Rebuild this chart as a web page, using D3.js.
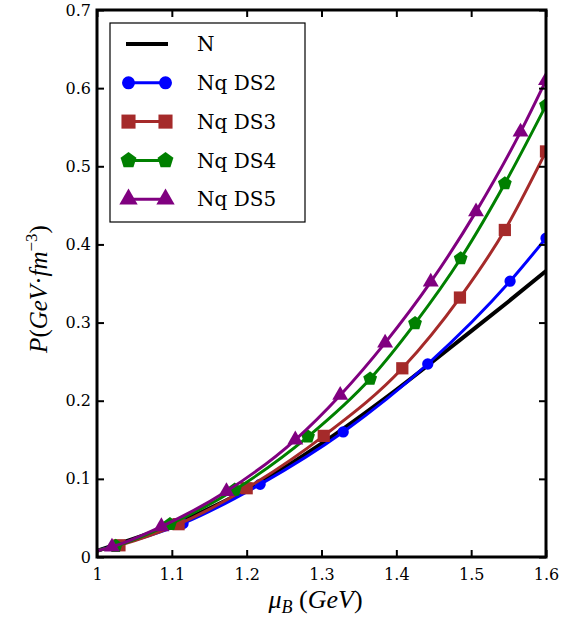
<!DOCTYPE html>
<html>
<head>
<meta charset="utf-8">
<script src="https://cdn.jsdelivr.net/npm/d3@7"></script>
<style>
  body { margin: 0; background: #fff; }
  .tick text { font-family: "DejaVu Serif", serif; font-size: 16px; fill: #000; }
  .tick line { stroke: #000; stroke-width: 2; }
  .domain { display: none; }
</style>
</head>
<body>
<svg id="chart" width="577" height="620"></svg>
<script>
// tick values
const xTicks = [1.0, 1.1, 1.2, 1.3, 1.4, 1.5, 1.6];
const yTicks = [0, 0.1, 0.2, 0.3, 0.4, 0.5, 0.6, 0.7];

// series values (mu_B in GeV, P in GeV fm^-3)
const nX   = [1.0, 1.1, 1.2, 1.3, 1.4, 1.5, 1.55, 1.6];
const nY   = [0.008, 0.041, 0.086, 0.145, 0.214, 0.289, 0.327, 0.366];

const ds2X = [1.0, 1.115, 1.218, 1.329, 1.442, 1.552, 1.6];
const ds2Y = [0.008, 0.043, 0.093, 0.160, 0.247, 0.353, 0.408];

const ds3X = [1.0, 1.03, 1.109, 1.200, 1.303, 1.408, 1.485, 1.545, 1.6];
const ds3Y = [0.008, 0.015, 0.042, 0.088, 0.155, 0.2415, 0.332, 0.4185, 0.519];

const ds4X = [1.0, 1.025, 1.0975, 1.184, 1.282, 1.365, 1.425, 1.486, 1.545, 1.6];
const ds4Y = [0.008, 0.014, 0.042, 0.086, 0.154, 0.228, 0.299, 0.382, 0.478, 0.578];

const ds5X = [1.0, 1.02, 1.086, 1.173, 1.265, 1.325, 1.385, 1.446, 1.5065, 1.566, 1.6];
const ds5Y = [0.008, 0.013, 0.039, 0.084, 0.150, 0.207, 0.274, 0.352, 0.442, 0.544, 0.610];

const seriesNames = ['N', 'Nq DS2', 'Nq DS3', 'Nq DS4', 'Nq DS5'];

const series = [
    { name: seriesNames[0], xs: nX,   ys: nY,   color: '#000000', marker: null,        width: 4 },
    { name: seriesNames[1], xs: ds2X, ys: ds2Y, color: '#0000ff', marker: 'circle',    width: 3 },
    { name: seriesNames[2], xs: ds3X, ys: ds3Y, color: '#a52a2a', marker: 'square',    width: 3 },
    { name: seriesNames[3], xs: ds4X, ys: ds4Y, color: '#008000', marker: 'pentagon',  width: 3 },
    { name: seriesNames[4], xs: ds5X, ys: ds5Y, color: '#800080', marker: 'triangle',  width: 3 }
];

const margin = { top: 10, right: 31, bottom: 63, left: 97 };
const width = 577 - margin.left - margin.right;
const height = 620 - margin.top - margin.bottom;

const svg = d3.select('#chart');
const g = svg.append('g')
    .attr('transform', `translate(${margin.left},${margin.top})`);

const x = d3.scaleLinear().domain([1.0, 1.6]).range([0, width]);
const y = d3.scaleLinear().domain([0, 0.7]).range([height, 0]);

g.append('clipPath').attr('id', 'clip')
  .append('rect').attr('width', width).attr('height', height);

// marker symbols, sized roughly like matplotlib markersize ~8
const symbolFor = {
    circle: d3.symbol().type(d3.symbolCircle).size(100),
    square: d3.symbol().type(d3.symbolSquare).size(150),
    pentagon: d3.symbol().type({
        draw(ctx, size) {
            const r = Math.sqrt(size / 2.3776);
            for (let i = 0; i < 5; i++) {
                const a = -Math.PI / 2 + i * 2 * Math.PI / 5;
                const px = r * Math.cos(a), py = r * Math.sin(a);
                if (i === 0) ctx.moveTo(px, py); else ctx.lineTo(px, py);
            }
            ctx.closePath();
        }
    }).size(125),
    triangle: d3.symbol().type(d3.symbolTriangle).size(110)
};

const line = d3.line()
    .x(d => x(d[0]))
    .y(d => y(d[1]))
    .curve(d3.curveMonotoneX);

const plot = g.append('g').attr('clip-path', 'url(#clip)');

series.forEach(s => {
    const pts = s.xs.map((v, i) => [v, s.ys[i]]);
    const sg = plot.append('g');
    sg.append('path')
        .datum(pts)
        .attr('fill', 'none')
        .attr('stroke', s.color)
        .attr('stroke-width', s.width)
        .attr('d', line);
    if (s.marker) {
        // the curve starts at mu_B = 1 without a marker
        sg.selectAll('path.mk')
            .data(pts.slice(1))
            .join('path')
            .attr('class', 'mk')
            .attr('d', symbolFor[s.marker])
            .attr('fill', s.color)
            .attr('transform', d => `translate(${x(d[0])},${y(d[1])})`);
    }
});

// axes, ticks inside on all four sides
const fmt = d => d === 0 ? '0' : d === 1 ? '1' : d3.format('.1f')(d);

const xAxisG = g.append('g')
    .attr('transform', `translate(0,${height})`)
    .call(d3.axisBottom(x).tickValues(xTicks).tickSize(-7).tickPadding(9).tickFormat(fmt));
g.append('g')
    .call(d3.axisTop(x).tickValues(xTicks).tickSize(-7).tickFormat(''));
g.append('g')
    .call(d3.axisLeft(y).tickValues(yTicks).tickSize(-7).tickPadding(6).tickFormat(fmt));
g.append('g')
    .attr('transform', `translate(${width},0)`)
    .call(d3.axisRight(y).tickValues(yTicks).tickSize(-7).tickFormat(''));

xAxisG.selectAll('.tick text').attr('dy', '0.9em');

// frame
g.append('rect')
    .attr('width', width)
    .attr('height', height)
    .attr('fill', 'none')
    .attr('stroke', '#000')
    .attr('stroke-width', 3);

// axis titles
const xt = svg.append('text')
    .attr('x', margin.left + width / 2 - 6)
    .attr('y', 608)
    .attr('text-anchor', 'middle')
    .attr('font-family', 'Liberation Serif, serif')
    .attr('font-size', 26);
xt.append('tspan').attr('font-style', 'italic').text('μ');
xt.append('tspan').attr('font-style', 'italic').attr('font-size', 18).attr('dy', 5).text('B');
xt.append('tspan').attr('dy', -5).text(' (');
xt.append('tspan').attr('font-style', 'italic').text('GeV');
xt.append('tspan').text(')');

const yt = svg.append('text')
    .attr('transform', `translate(47,289) rotate(-90)`)
    .attr('text-anchor', 'middle')
    .attr('font-family', 'Liberation Serif, serif')
    .attr('font-size', 25);
yt.append('tspan').attr('font-style', 'italic').text('P');
yt.append('tspan').text('(');
yt.append('tspan').attr('font-style', 'italic').text('GeV');
yt.append('tspan').text('·');
yt.append('tspan').attr('font-style', 'italic').text('fm');
yt.append('tspan').attr('font-size', 17).attr('dy', -10).text('−3');
yt.append('tspan').attr('dy', 10).text(')');

// legend
const legend = svg.append('g').attr('transform', 'translate(110,23)');
legend.append('rect')
    .attr('width', 195)
    .attr('height', 199)
    .attr('fill', '#fff')
    .attr('stroke', '#000')
    .attr('stroke-width', 1.2);

series.forEach((s, i) => {
    const row = legend.append('g').attr('transform', `translate(0,${21 + i * 38.8})`);
    row.append('line')
        .attr('x1', 16).attr('x2', 58)
        .attr('stroke', s.color)
        .attr('stroke-width', s.width);
    if (s.marker) {
        [18.5, 55.5].forEach(px => {
            row.append('path')
                .attr('d', symbolFor[s.marker])
                .attr('fill', s.color)
                .attr('transform', `translate(${px},0) scale(1.15)`);
        });
    }
    row.append('text')
        .attr('x', 87)
        .attr('dy', '0.36em')
        .attr('font-family', 'DejaVu Serif, serif')
        .attr('font-size', 20)
        .text(s.name);
});
</script>
</body>
</html>
